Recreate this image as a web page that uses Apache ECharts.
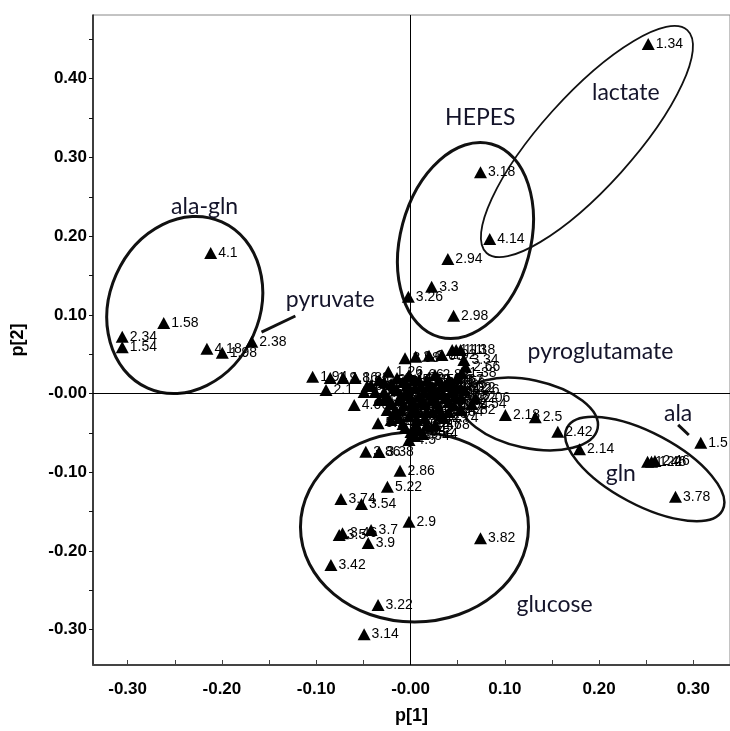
<!DOCTYPE html>
<html>
<head>
<meta charset="utf-8">
<script src="https://cdn.jsdelivr.net/npm/echarts@6/dist/echarts.min.js"></script>
<style>html,body{margin:0;padding:0;background:#fff;}#c{width:730px;height:731px;}</style>
</head>
<body>
<div id="c"></div>
<script>
// ---- data ----
const pointLabels = [
  '1.34','3.18','4.14','2.94','3.3','3.26','2.98',
  '4.1','1.58','2.34','1.54','4.18','1.98','2.38',
  '3.86','3.38','2.86','5.22','3.74','3.54','2.9','3.5','3.46','3.7','3.9','3.42','3.82','3.22','3.14',
  '2.06','2.54','2.18','2.5','2.42','2.14','1.5','1.22','1.46','2.46','3.78',
  '1.94','1.9','1.86','1.82','2.1','4.06','5.24','1.26','3.98','2.26','1.13','1.1','1.18','2.0','2.08','2.02','3.34','2.66','1.38',
  '0.9','0.94','0.98','1.02','1.06','1.14','1.3','1.42','1.62','1.66','1.7','1.74','1.78','2.22','2.3','2.58','2.62','2.7','2.74','2.78','2.82','3.02','3.06','3.1','3.58','3.62','3.66','3.94','4.02','4.22','4.26','4.3','4.34','4.38','4.42','4.46'
];
const pointX = [
  0.2521,0.0742,0.0840,0.0396,0.0224,-0.0023,0.0457,
  -0.2119,-0.2617,-0.3057,-0.3057,-0.2159,-0.1996,-0.1683,
  -0.0474,-0.0333,-0.0111,-0.0245,-0.0738,-0.0520,-0.0016,-0.0756,-0.0721,-0.0418,-0.0449,-0.0844,0.0742,-0.0344,-0.0492,
  0.0689,0.0650,0.1006,0.1323,0.1562,0.1792,0.3078,0.2514,0.2556,0.2592,0.2810,
  -0.1038,-0.0851,-0.0714,-0.0587,-0.0896,-0.0597,-0.0344,-0.0235,-0.0058,-0.0156,0.0442,0.0484,0.0531,0.0055,0.0196,0.0333,0.0566,0.0584,0.0544,
  -0.0418,-0.0333,-0.0280,-0.0227,-0.0174,-0.0143,-0.0100,-0.0069,-0.0037,-0.0016,0.0005,0.0026,0.0048,0.0069,0.0090,0.0111,0.0143,0.0174,0.0196,0.0227,0.0259,0.0280,0.0301,0.0333,0.0365,0.0407,0.0428,0.0460,0.0492,0.0534,0.0576,-0.0122,-0.0058,0.0005,0.0090
];
const pointY = [
  0.4441,0.2811,0.1963,0.1709,0.1357,0.1230,0.0989,
  0.1785,0.0896,0.0722,0.0587,0.0569,0.0518,0.0658,
  -0.0740,-0.0743,-0.0981,-0.1184,-0.1341,-0.1404,-0.1629,-0.1798,-0.1776,-0.1734,-0.1900,-0.2179,-0.1840,-0.2687,-0.3060,
  -0.0061,-0.0133,-0.0273,-0.0302,-0.0485,-0.0709,-0.0625,-0.0867,-0.0867,-0.0858,-0.1311,
  0.0213,0.0197,0.0197,0.0197,0.0044,-0.0146,-0.0379,0.0277,0.0447,-0.0231,0.0553,0.0553,0.0553,0.0468,0.0480,0.0489,0.0426,0.0341,0.0260,
  0.0108,0.0172,0.0019,-0.0083,0.0070,0.0197,-0.0019,-0.0146,0.0108,0.0235,-0.0057,-0.0210,0.0070,-0.0337,0.0172,-0.0108,0.0019,-0.0235,0.0108,-0.0083,0.0235,0.0019,-0.0184,0.0108,-0.0057,0.0172,0.0019,-0.0146,0.0070,-0.0057,0.0044,-0.0311,-0.0438,-0.0489,-0.0464
];
const extraLabels = ['4.5','4.54','4.58','4.62','4.66','4.7','4.74','4.78','4.82','4.86'];
const extraX = [0.0174,-0.0016,0.0048,-0.0248,-0.0333,-0.0492,-0.0206,0.0354,0.0259,0.0534];
const extraY = [-0.0400,-0.0591,-0.0540,-0.0210,-0.0083,0.0019,-0.0337,-0.0311,-0.0400,-0.0210];
const coreLabels = ['5.26','5.3','5.34','5.38','5.42','5.46','5.5','5.54','5.58','5.62','5.66','5.7','5.74','5.78','5.82','5.86','5.9','5.94','5.98','6.02','6.06','6.1','6.14','6.18','6.22','6.26','6.3','6.34','6.38','6.42','6.46','6.5','6.54','6.58','6.62','6.66','6.7','6.74','6.78'];
const coreX = [-0.0280,-0.0206,-0.0143,-0.0079,-0.0016,0.0048,0.0111,0.0174,0.0238,0.0301,0.0365,0.0428,0.0492,-0.0270,-0.0196,-0.0122,-0.0048,0.0026,0.0090,0.0153,0.0217,0.0280,0.0344,0.0407,0.0470,0.0534,-0.0185,-0.0100,-0.0016,0.0069,0.0153,0.0238,0.0322,0.0407,-0.0375,-0.0460,-0.0079,0.0048,0.0132];
const coreY = [0.0146,0.0121,0.0044,0.0146,0.0070,0.0172,0.0095,0.0172,0.0070,0.0172,0.0095,0.0121,0.0197,-0.0057,-0.0133,-0.0083,-0.0006,-0.0108,-0.0032,-0.0133,-0.0006,-0.0108,-0.0006,-0.0108,-0.0032,0.0070,-0.0260,-0.0210,-0.0286,-0.0235,-0.0311,-0.0235,-0.0260,-0.0235,0.0019,0.0095,-0.0388,-0.0413,-0.0515];

const xTickValues = [-0.30,-0.25,-0.20,-0.15,-0.10,-0.05,0,0.05,0.10,0.15,0.20,0.25,0.30];
const xLabelValues = [-0.30,-0.20,-0.10,0,0.10,0.20,0.30];
const yTickValues = [-0.30,-0.25,-0.20,-0.15,-0.10,-0.05,0,0.05,0.10,0.15,0.20,0.25,0.30,0.35,0.40,0.45];
const yLabelValues = [-0.30,-0.20,-0.10,0,0.10,0.20,0.30,0.40];

// group annotations
const groupNames = ['lactate','HEPES','ala-gln','pyruvate','pyroglutamate','ala','gln','glucose'];
const groupX = [0.2283,0.0740,-0.2183,-0.0851,0.2014,0.2838,0.2230,0.1527];
const groupY = [0.3818,0.3501,0.2370,0.1188,0.0527,-0.0261,-0.1023,-0.2687];

// ellipses: centre in data units
const ellipseCX = [-0.2394,0.0583,0.1871,0.1258,0.2484,0.0042];
const ellipseCY = [0.1125,0.1944,0.3202,-0.0260,-0.0959,-0.1696];
// pointer lines (data units)
const pointerLines = [[-0.1580,0.0781,-0.1221,0.0985],[0.2838,-0.0399,0.2951,-0.0527]];

// ---- styles / geometry of ellipses (pixels) ----
const ellipseGeom = [
  {a:91,b:75,ang:66,w:3},
  {a:100,b:65,ang:75,w:3},
  {a:150,b:46,ang:48,w:1.8},
  {a:70,b:34,ang:-12,w:2.5},
  {a:88,b:36,ang:-28,w:2.5},
  {a:114,b:95,ang:0,w:3}
];

const allLabels = pointLabels.concat(extraLabels, coreLabels);
const allX = pointX.concat(extraX, coreX);
const allY = pointY.concat(extraY, coreY);
const scatterData = allLabels.map((n,i)=>({name:n,value:[allX[i],allY[i]]}));

function fmt(v){ return (Math.abs(v) < 1e-9) ? '-0.00' : v.toFixed(2); }

const chart = echarts.init(document.getElementById('c'), null, {renderer:'canvas'});
chart.setOption({
  animation:false,
  backgroundColor:'#fff',
  grid:{left:93, top:15, right:-2, bottom:66, show:true, borderColor:'#888', borderWidth:1, backgroundColor:'transparent'},
  xAxis:{
    type:'value', min:-0.3367, max:0.3388,
    axisLine:{onZero:false, lineStyle:{color:'#444', width:2}},
    axisTick:{show:true, inside:true, length:5, customValues:xTickValues, lineStyle:{color:'#444'}},
    axisLabel:{customValues:xLabelValues, formatter:fmt, margin:16, fontFamily:'Liberation Sans', fontWeight:'bold', fontSize:17, color:'#000'},
    splitLine:{show:false},
    name:'p[1]', nameLocation:'middle', nameGap:42,
    nameTextStyle:{fontFamily:'Liberation Sans', fontWeight:'bold', fontSize:18, color:'#000'}
  },
  yAxis:{
    type:'value', min:-0.345, max:0.481,
    axisLine:{onZero:false, lineStyle:{color:'#111', width:1.5}},
    axisTick:{show:true, inside:false, length:4, customValues:yTickValues, lineStyle:{color:'#111'}},
    axisLabel:{customValues:yLabelValues, formatter:fmt, margin:6, fontFamily:'Liberation Sans', fontWeight:'bold', fontSize:17, color:'#000'},
    splitLine:{show:false},
    name:'p[2]', nameLocation:'middle', nameGap:66,
    nameTextStyle:{fontFamily:'Liberation Sans', fontWeight:'bold', fontSize:18, color:'#000'}
  },
  series:[
    {
      type:'custom', silent:true, z:3,
      data: ellipseCX.map((x,i)=>[x, ellipseCY[i]]),
      encode:{x:0,y:1},
      renderItem:function(params, api){
        const g = ellipseGeom[params.dataIndex];
        const c = api.coord([api.value(0), api.value(1)]);
        return {type:'ellipse', x:c[0], y:c[1], rotation:g.ang*Math.PI/180,
          shape:{cx:0, cy:0, rx:g.a, ry:g.b},
          style:{fill:null, stroke:'#111', lineWidth:g.w}};
      }
    },
    {
      type:'custom', silent:true, z:3,
      data: pointerLines,
      encode:{x:[0,2], y:[1,3]},
      renderItem:function(params, api){
        const p1 = api.coord([api.value(0), api.value(1)]);
        const p2 = api.coord([api.value(2), api.value(3)]);
        return {type:'line', shape:{x1:p1[0], y1:p1[1], x2:p2[0], y2:p2[1]}, style:{stroke:'#111', lineWidth:3}};
      }
    },
    {
      type:'scatter', z:4,
      symbol:'triangle', symbolSize:[13,12],
      itemStyle:{color:'#000', opacity:1},
      label:{show:true, position:'right', distance:1, formatter:'{b}', fontFamily:'Liberation Sans', fontSize:14, color:'#000'},
      data: scatterData,
      markLine:{
        silent:true, symbol:['none','none'], label:{show:false},
        lineStyle:{color:'#000', width:1, type:'solid'},
        data:[{xAxis:0},{yAxis:0}]
      }
    },
    {
      type:'custom', silent:true, z:5,
      data: groupNames.map((n,i)=>[groupX[i], groupY[i]]),
      encode:{x:0,y:1},
      renderItem:function(params, api){
        const c = api.coord([api.value(0), api.value(1)]);
        return {type:'text', x:c[0], y:c[1], style:{text:groupNames[params.dataIndex], align:'center', verticalAlign:'middle',
          fontFamily:'Lato', fontSize:23, fill:'#14142a'}};
      }
    }
  ]
});
</script>
</body>
</html>
